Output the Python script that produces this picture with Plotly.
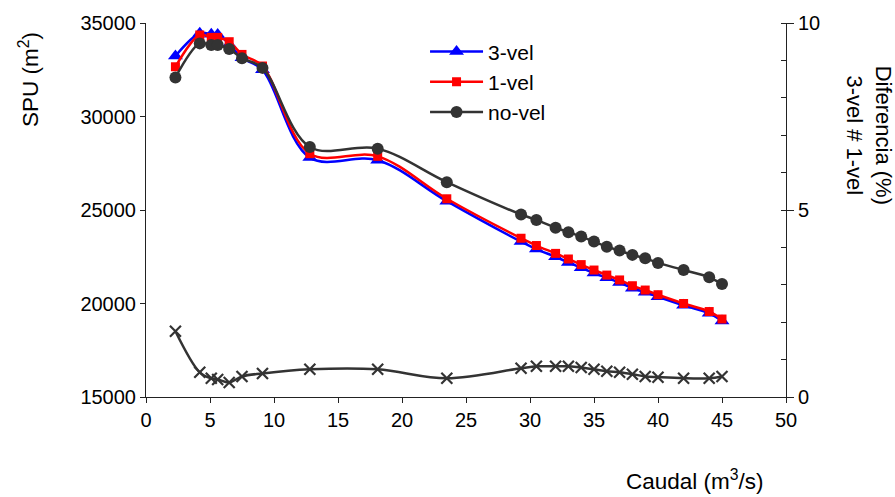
import plotly.graph_objects as go

caudal = [2.3, 4.2, 5.1, 5.6, 6.5, 7.5, 9.1, 12.8, 18.1, 23.5, 29.3, 30.5, 32, 33, 34, 35,
          36, 37, 38, 39, 40, 42, 44, 45]
spu_3vel = [33235, 34450, 34400, 34390, 33867, 33137, 32494, 27803, 27664, 25472, 23309, 22911,
            22494, 22196, 21906, 21629, 21372, 21120, 20822, 20606, 20362, 19900, 19472, 19065]
spu_1vel = [32660, 34360, 34230, 34230, 34000, 33320, 32700, 28010, 27870, 25600, 23490, 23100,
            22680, 22380, 22080, 21790, 21520, 21260, 20950, 20720, 20470, 20000, 19570, 19170]
spu_novel = [32090, 33910, 33820, 33820, 33610, 33110, 32600, 28370, 28280, 26490, 24760, 24470,
             24050, 23810, 23580, 23310, 23040, 22830, 22600, 22420, 22170, 21790, 21400, 21040]
diferencia = [1.76, 0.66, 0.50, 0.47, 0.39, 0.55, 0.63, 0.74, 0.74, 0.50, 0.77, 0.82, 0.82, 0.82,
              0.79, 0.74, 0.69, 0.66, 0.61, 0.55, 0.53, 0.50, 0.50, 0.55]

FONT = "Liberation Sans, Arial, sans-serif"
FS = 20
TS = 22.5
fig = go.Figure()
fig.add_trace(go.Scatter(x=caudal, y=spu_3vel, name="3-vel", mode="lines+markers",
                         line=dict(color="#0000FF", width=2.5, shape="spline"),
                         marker=dict(symbol="triangle-up", size=13, color="#0000FF")))
fig.add_trace(go.Scatter(x=caudal, y=spu_1vel, name="1-vel", mode="lines+markers",
                         line=dict(color="#FF0000", width=2.5, shape="spline"),
                         marker=dict(symbol="square", size=9, color="#FF0000")))
fig.add_trace(go.Scatter(x=caudal, y=spu_novel, name="no-vel", mode="lines+markers",
                         line=dict(color="#333333", width=2.5, shape="spline"),
                         marker=dict(symbol="circle", size=12, color="#333333")))
fig.add_trace(go.Scatter(x=caudal, y=diferencia, name="dif", mode="lines+markers", yaxis="y2",
                         showlegend=False,
                         line=dict(color="#333333", width=2.5, shape="spline"),
                         marker=dict(symbol="x-thin-open", size=11,
                                     line=dict(color="#333333", width=2.2))))

axis_common = dict(showgrid=False, zeroline=False, showline=True, linecolor="#222",
                   linewidth=1, ticks="outside", ticklen=5, tickcolor="#222",
                   tickfont=dict(size=FS, color="#000", family=FONT))
fig.update_layout(
    width=895, height=497,
    margin=dict(l=146, r=109, t=23, b=100),
    plot_bgcolor="white", paper_bgcolor="white",
    font=dict(family=FONT, size=FS, color="#000"),
    xaxis=dict(range=[0, 50], dtick=5, **axis_common),
    yaxis=dict(range=[15000, 35000], dtick=5000, tickformat="d", **axis_common),
    yaxis2=dict(range=[0, 10], overlaying="y", side="right", tickvals=[0, 5, 10],
                minor=dict(dtick=1, ticks="inside", ticklen=5, tickcolor="#222"),
                **{**axis_common, "ticklen": 7}),
    legend=dict(x=0.436, y=0.978, xanchor="left", yanchor="top", bgcolor="rgba(0,0,0,0)",
                font=dict(size=21, family=FONT), itemwidth=53, tracegroupgap=0),
    annotations=[
        dict(text="SPU (m<sup>2</sup>)", xref="paper", yref="paper", x=-0.183, y=0.85,
             xanchor="center", yanchor="middle",
             textangle=-90, showarrow=False, font=dict(size=TS)),
        dict(text="Caudal (m<sup>3</sup>/s)", xref="paper", yref="paper", x=0.858, y=-0.223,
             xanchor="center", yanchor="middle", showarrow=False, font=dict(size=22.5)),
        dict(text="Diferencia (%)<br>3-vel # 1-vel", xref="paper", yref="paper", x=1.129, y=0.70,
             xanchor="center", yanchor="middle",
             textangle=90, showarrow=False, align="center", font=dict(size=22)),
    ],
)
fig.write_html("out.html")
